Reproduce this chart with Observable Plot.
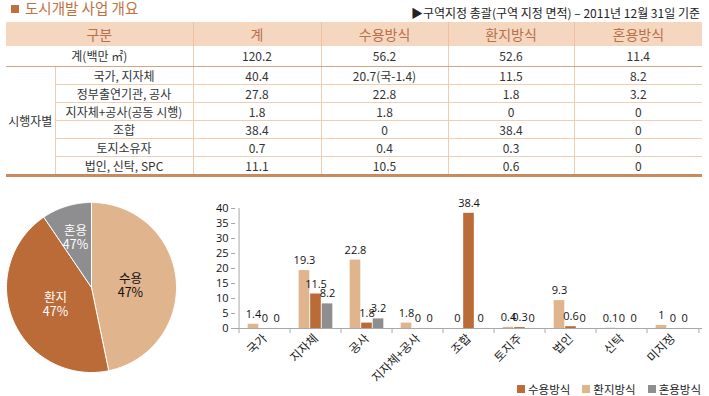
<!DOCTYPE html>
<html><head><meta charset="utf-8">
<script src="https://cdn.jsdelivr.net/npm/d3@7"></script>
<script src="https://cdn.jsdelivr.net/npm/@observablehq/plot@0.6"></script>
<style>
html,body{margin:0;padding:0;}
body{width:709px;height:396px;position:relative;overflow:hidden;background:#fff;font-family:"Noto Sans CJK KR","Noto Sans",sans-serif;}
#title{position:absolute;left:11px;top:0px;font-size:14.5px;color:#C0703E;line-height:15px;white-space:nowrap;}
#title .sq{display:inline-block;width:8px;height:8px;background:#C0703E;margin-right:6px;vertical-align:1px;}
#note{position:absolute;right:9px;top:5px;font-size:12px;color:#222;line-height:15px;white-space:nowrap;}
#tbl{position:absolute;left:6px;top:22px;width:696px;border-collapse:collapse;table-layout:fixed;color:#333;font-size:12px;}
#tbl th{background:#F5D7C0;color:#B7714A;font-weight:normal;font-size:14px;height:24px;padding:0;line-height:24px;border-left:1px solid #EBC2A3;}
#tbl th:first-child{border-left:none;}
#tbl td{padding:0;text-align:center;height:17px;line-height:17px;border-left:1px solid #EFCBB0;border-bottom:1px solid #F1CDB2;white-space:nowrap;}
#tbl tr.total td{height:20px;line-height:20px;border-bottom:1px solid #D8A47E;}
#tbl td.first{border-left:none;}
#tbl tr.last td{border-bottom:3px solid #C98A5E;}
#pie{position:absolute;left:1px;top:197px;}
#bars{position:absolute;left:200px;top:195px;}
#legend{position:absolute;left:517px;top:380px;font-size:11.5px;color:#222;line-height:18px;white-space:nowrap;display:flex;}
#legend .it{display:flex;align-items:center;margin-right:12px;}
#legend .sw{display:inline-block;width:8px;height:8px;margin-right:3px;}
</style></head><body>
<div id="title"></div>
<div id="note"></div>
<table id="tbl"></table>
<div id="pie"></div>
<div id="bars"></div>
<div id="legend"></div>
<script>
// ---------- data ----------
const titleText = "도시개발 사업 개요";
const noteText = "▶구역지정 총괄(구역 지정 면적) – 2011년 12월 31일 기준";
const tableHeader = ["구분", "계", "수용방식", "환지방식", "혼용방식"];
const totalRow = ["계(백만 ㎡)", "120.2", "56.2", "52.6", "11.4"];
const groupLabel = "시행자별";
const rowLabels = ["국가, 지자체", "정부출연기관, 공사", "지자체+공사(공동 시행)", "조합", "토지소유자", "법인, 신탁, SPC"];
const colTotal = ["40.4", "27.8", "1.8", "38.4", "0.7", "11.1"];
const colSuyong = ["20.7(국-1.4)", "22.8", "1.8", "0", "0.4", "10.5"];
const colHwanji = ["11.5", "1.8", "0", "38.4", "0.3", "0.6"];
const colHonyong = ["8.2", "3.2", "0", "0", "0", "0"];

const pieLabels = ["수용", "환지", "혼용"];
const pieValues = [56.2, 52.6, 11.4];
const pieTexts = ["47%", "47%", "47%"];

const barCategories = ["국가", "지자체", "공사", "지자체+공사", "조합", "토지주", "법인", "신탁", "미지정"];
const barSeries1 = [1.4, 19.3, 22.8, 1.8, 0, 0.4, 9.3, 0.1, 1];
const barSeries2 = [0, 11.5, 1.8, 0, 38.4, 0.3, 0.6, 0, 0];
const barSeries3 = [0, 8.2, 3.2, 0, 0, 0, 0, 0, 0];
const yTicks = [0, 5, 10, 15, 20, 25, 30, 35, 40];
const legendNames = ["수용방식", "환지방식", "혼용방식"];

// ---------- styles ----------
const tan = "#E0B48C", brown = "#BB6B37", gray = "#8E8E90";

// ---------- header texts ----------
document.getElementById("title").innerHTML = '<span class="sq"></span>' + titleText;
document.getElementById("note").textContent = noteText;

// ---------- table ----------
const colW = [49, 138, 128, 127, 126, 128];
let html = "<colgroup>" + colW.map(w => `<col style="width:${w}px">`).join("") + "</colgroup>";
html += `<tr><th colspan="2">${tableHeader[0]}</th>` + tableHeader.slice(1).map(h => `<th>${h}</th>`).join("") + "</tr>";
html += `<tr class="total"><td class="first" colspan="2">${totalRow[0]}</td>` + totalRow.slice(1).map(v => `<td>${v}</td>`).join("") + "</tr>";
rowLabels.forEach((lab, i) => {
  const cls = i === rowLabels.length - 1 ? ' class="last"' : "";
  html += `<tr${cls}>`;
  if (i === 0) html += `<td class="first" rowspan="${rowLabels.length}" style="border-bottom:3px solid #C98A5E">${groupLabel}</td>`;
  html += `<td>${lab}</td><td>${colTotal[i]}</td><td>${colSuyong[i]}</td><td>${colHwanji[i]}</td><td>${colHonyong[i]}</td></tr>`;
});
document.getElementById("tbl").innerHTML = html;

// ---------- pie ----------
const arcs = d3.pie().sort(null)(pieValues);
const poly = [];
arcs.forEach((a, i) => {
  const n = 80;
  poly.push({k: pieLabels[i], x: 0, y: 0});
  for (let j = 0; j <= n; j++) {
    const t = a.startAngle + (a.endAngle - a.startAngle) * j / n;
    poly.push({k: pieLabels[i], x: Math.sin(t), y: Math.cos(t)});
  }
  poly.push({k: pieLabels[i], x: 0, y: 0});
});
const labelR = a => (a.endAngle - a.startAngle) < 1 ? 0.64 : 0.46;
const mid = a => (a.startAngle + a.endAngle) / 2;
const pie = Plot.plot({
  width: 180, height: 180, margin: 5,
  x: {domain: [-1, 1], axis: null},
  y: {domain: [-1, 1], axis: null},
  color: {domain: pieLabels, range: [tan, brown, gray]},
  style: {background: "transparent"},
  marks: [
    Plot.line(poly, {x: "x", y: "y", z: "k", fill: "k", stroke: "white", strokeWidth: 1}),
    Plot.text(arcs, {
      x: a => labelR(a) * Math.sin(mid(a)),
      y: a => labelR(a) * Math.cos(mid(a)),
      text: (a, i) => pieLabels[i] + "\n" + pieTexts[i],
      fill: (a, i) => i === 0 ? "#111" : "#fff",
      fontSize: 12.5, lineHeight: 1.12, dy: 2,
      fontFamily: "Noto Sans CJK KR"
    })
  ]
});
document.getElementById("pie").append(pie);

// ---------- bars ----------
const W = 509, H = 192, mL = 35, mR = 7, mT = 13, mB = 59;
const bw = (W - mL - mR) / barCategories.length;
const barW = bw * 0.222;
const gap = (bw - 3 * barW) / 2;
const seriesVals = [barSeries1, barSeries2, barSeries3];
const seriesCols = [tan, brown, gray];
const marks = [];
seriesVals.forEach((vals, s) => {
  const data = barCategories.map((c, i) => ({c, v: vals[i]}));
  marks.push(Plot.barY(data, {
    x: "c", y: "v", fill: seriesCols[s],
    insetLeft: gap + s * barW, insetRight: bw - gap - (s + 1) * barW
  }));
});
seriesVals.forEach((vals, s) => {
  const data = barCategories.map((c, i) => ({c, v: vals[i]}));
  marks.push(Plot.text(data, {
    x: "c", y: "v", text: d => String(d.v),
    dx: -bw / 2 + gap + (s + 0.5) * barW, dy: -10,
    fontSize: 11, fill: "#111", fontFamily: "Open Sans"
  }));
});
const bars = Plot.plot({
  width: W, height: H,
  marginLeft: mL, marginRight: mR, marginTop: mT, marginBottom: mB,
  x: {type: "band", domain: barCategories, padding: 0, axis: null},
  y: {domain: [0, 40], axis: null},
  style: {background: "transparent", overflow: "visible"},
  marks: [
    Plot.ruleX([barCategories[0]], {dx: -bw / 2, y1: 0, y2: 40, stroke: "#A8A8A8"}),
    Plot.ruleY([0], {stroke: "#A8A8A8"}),
    Plot.ruleX(barCategories, {x: d => d, dx: -bw / 2, y1: 0, y2: 0, insetBottom: -5, stroke: "#A8A8A8"}),
    Plot.ruleX([barCategories[barCategories.length - 1]], {dx: bw / 2, y1: 0, y2: 0, insetBottom: -5, stroke: "#A8A8A8"}),
    Plot.axisY({ticks: yTicks, tickSize: 4, tickPadding: 3, fontSize: 11, stroke: "#A8A8A8", fill: "#111", tickFormat: d => d, fontFamily: "Open Sans", label: null}),
    Plot.axisX({tickSize: 0, tickRotate: -45, tickPadding: 8, fontSize: 12, fill: "#222", fontFamily: "Noto Sans CJK KR", label: null}),
    ...marks
  ]
});
document.getElementById("bars").append(bars);

// ---------- legend ----------
const legendCols = [brown, tan, gray];
document.getElementById("legend").innerHTML = legendNames.map((n, i) =>
  `<span class="it"><span class="sw" style="background:${legendCols[i]}"></span>${n}</span>`).join("");
</script>
</body></html>
